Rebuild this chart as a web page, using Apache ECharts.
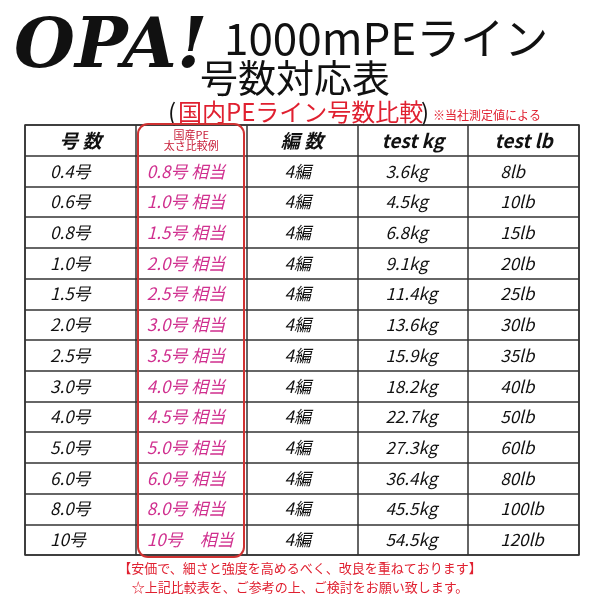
<!DOCTYPE html>
<html><head><meta charset="utf-8">
<script src="https://cdn.jsdelivr.net/npm/echarts@6/dist/echarts.min.js"></script>
<style>html,body{margin:0;background:#fff}#c{width:600px;height:600px}</style>
</head><body><div id="c"></div>
<script>
// 表データ
var headers = ["号 数", "国産PE\n太さ比較例", "編 数", "test kg", "test lb"];
var sizes = ["0.4号","0.6号","0.8号","1.0号","1.5号","2.0号","2.5号","3.0号","4.0号","5.0号","6.0号","8.0号","10号"];
var domestic = ["0.8号 相当","1.0号 相当","1.5号 相当","2.0号 相当","2.5号 相当","3.0号 相当","3.5号 相当","4.0号 相当","4.5号 相当","5.0号 相当","6.0号 相当","8.0号 相当","10号　相当"];
var braids = ["4編","4編","4編","4編","4編","4編","4編","4編","4編","4編","4編","4編","4編"];
var kg = ["3.6kg","4.5kg","6.8kg","9.1kg","11.4kg","13.6kg","15.9kg","18.2kg","22.7kg","27.3kg","36.4kg","45.5kg","54.5kg"];
var lb = ["8lb","10lb","15lb","20lb","25lb","30lb","35lb","40lb","50lb","60lb","80lb","100lb","120lb"];

var rows = ["head"].concat(sizes);
var cols = [0,1,2,3,4];
var colOffset = [25, 11, 38, 28, 32]; // セル左端からの文字位置

var cells = [];
headers.forEach(function (h, c) { cells.push([c, 0, h]); });
[sizes, domestic, braids, kg, lb].forEach(function (arr, c) {
    arr.forEach(function (v, r) { cells.push([c, r + 1, v]); });
});

var chart = echarts.init(document.getElementById("c"));
var font = "'Noto Sans CJK JP', sans-serif";
chart.setOption({
    animation: false,
    grid: {left: 25, right: 21, top: 125, bottom: 45, show: true, borderColor: "#333", borderWidth: 1.5},
    xAxis: {type: "category", data: cols, boundaryGap: true, axisLabel: {show: false}, axisTick: {show: false},
        axisLine: {show: false}, splitLine: {show: true, interval: 0, lineStyle: {color: "#333", width: 1.5}}},
    yAxis: {type: "category", data: rows, inverse: true, axisLabel: {show: false}, axisTick: {show: false},
        axisLine: {show: false}, splitLine: {show: true, interval: 0, lineStyle: {color: "#333", width: 1.5}}},
    series: [{
        type: "custom",
        data: cells,
        renderItem: function (params, api) {
            var c = api.value(0), r = api.value(1);
            var p = api.coord([c, r]);
            var w = api.size([1, 0])[0];
            var left = p[0] - w / 2;
            var txt = cells[params.dataIndex][2];
            if (r === 0) {
                if (c === 1) {
                    return {type: "text", style: {text: txt, x: p[0], y: p[1], align: "center", verticalAlign: "middle",
                        font: "11px " + font, lineHeight: 11, fill: "#c8203a"}};
                }
                return {type: "text", style: {text: txt, x: p[0], y: p[1], align: "center", verticalAlign: "middle",
                    font: "italic bold 19px " + font, fill: "#111"}};
            }
            return {type: "text", style: {text: txt, x: left + colOffset[c], y: p[1], align: "left", verticalAlign: "middle",
                font: "italic 17px " + font, fill: c === 1 ? "#d0308f" : "#111"}};
        }
    }],
    graphic: [
        {type: "rect", shape: {x: 138, y: 124, width: 106, height: 433, r: 10}, style: {fill: "none", stroke: "#d03232", lineWidth: 2}, z: 10},
        {type: "text", style: {text: "OPA!", x: 14, y: 84, verticalAlign: "bottom", font: "italic bold 70px 'DejaVu Serif', serif", fill: "#111"}},
        {type: "text", style: {text: "1000mPEライン", x: 224, y: 60, verticalAlign: "bottom", font: "44px " + font, fill: "#111"}},
        {type: "text", style: {text: "号数対応表", x: 200, y: 97, verticalAlign: "bottom", font: "38px " + font, fill: "#111"}},
        {type: "text", style: {text: "(", x: 168, y: 124, verticalAlign: "bottom", font: "24px " + font, fill: "#111"}},
        {type: "text", style: {text: "国内PEライン号数比較", x: 178, y: 124, verticalAlign: "bottom", font: "24px " + font, fill: "#e02030"}},
        {type: "text", style: {text: ")", x: 421, y: 124, verticalAlign: "bottom", font: "24px " + font, fill: "#111"}},
        {type: "text", style: {text: "※当社測定値による", x: 433, y: 121, verticalAlign: "bottom", font: "12px " + font, fill: "#e02030"}},
        {type: "text", style: {text: "【安価で、細さと強度を高めるべく、改良を重ねております】", x: 300, y: 568, align: "center", verticalAlign: "middle", font: "13px " + font, fill: "#e02030"}},
        {type: "text", style: {text: "☆上記比較表を、ご参考の上、ご検討をお願い致します。", x: 300, y: 587, align: "center", verticalAlign: "middle", font: "13px " + font, fill: "#e02030"}}
    ]
});
</script></body></html>
